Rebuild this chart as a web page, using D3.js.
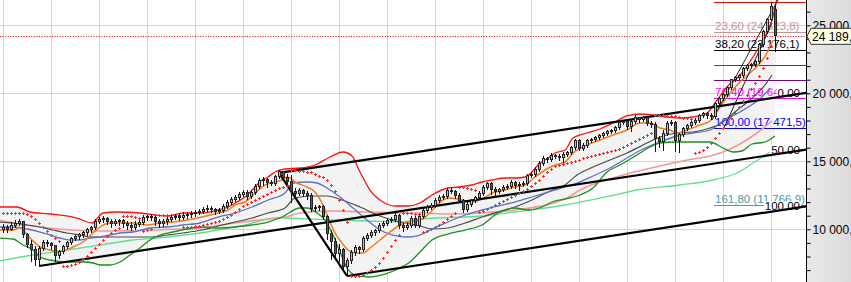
<!DOCTYPE html>
<html><head><meta charset="utf-8">
<script src="https://cdn.jsdelivr.net/npm/d3@7"></script>
<style>body{margin:0;background:#fff;overflow:hidden}svg{display:block}</style>
</head><body>
<svg id="c" width="851" height="282"></svg>
<script>
// ---------- DATA ----------
const open = [9948,10095,9948,10242,10389,10536,9580,8845,8477,7742,8551,8992,8918,8772,8036,8330,8698,8992,9286,9433,
9580,9728,9948,10095,10536,10683,10757,10536,10389,10536,10610,10389,10242,10095,10316,10463,10830,10904,10830,10536,
10389,10536,10683,10830,10904,10830,10978,11051,11125,11198,11272,11419,11492,11419,11272,11345,11639,11933,12154,12301,
12522,12669,12375,12669,13110,13551,13625,13404,13330,13845,14213,13772,13478,12742,12595,12816,12595,12448,11492,11566,
11639,10904,9654,9066,8183,8477,7227,7669,8257,8625,8477,9286,9507,9728,9875,10242,10389,10610,10683,10978,
10242,10095,10242,10757,10242,10904,11345,11566,11713,12080,12301,12375,12816,12742,12448,12080,11419,11786,12080,12301,
12595,13036,13330,12889,12742,12889,13036,13110,13404,13183,13257,13330,13919,13992,14360,14801,15169,15095,15389,15316,
15242,15463,15610,15978,16492,15904,16125,16492,16566,16713,16860,17007,17154,17228,17448,17816,17889,17522,17889,18183,
18036,18183,17742,17669,16639,16419,17007,17742,17816,16492,16933,17375,17595,17816,17963,18331,18478,18331,18257,19213,
19581,19875,20389,20978,21125,21272,21786,22007,22081,22301,23551,24507,25400,26125];
const high = [10389,10316,10536,10683,10757,10610,9728,9213,8772,8772,9213,9213,9066,8845,8477,8845,9139,9433,9580,9728,
9875,10095,10242,10757,10904,10978,10904,10757,10757,10757,10757,10610,10536,10610,10683,11051,11051,11125,10978,10757,
10757,10904,11051,11125,11125,11272,11272,11345,11419,11492,11639,11786,11713,11566,11566,11860,12154,12375,12522,12742,
12889,12889,12889,13330,13772,13845,13772,13625,13992,14360,14286,14066,13992,13036,13036,12963,12816,12669,11786,11786,
11786,11051,9948,9360,8918,8625,7889,8477,8845,8772,9507,9728,9948,10022,10463,10610,10830,10904,11198,11125,
10463,10536,10978,10978,11125,11566,11786,11933,12301,12522,12595,13036,13110,12889,12669,12228,12007,12228,12448,12816,
13257,13478,13478,13110,13036,13257,13330,13625,13551,13478,13551,14066,14213,14580,15022,15389,15316,15610,15537,15537,
15684,15757,16125,16639,16639,16345,16639,16713,16860,17007,17154,17301,17375,17595,17963,18036,18036,18110,18404,18257,
18331,18257,17963,17889,16860,17301,17963,18036,17963,17081,17522,17742,17963,18183,18478,18625,18625,18551,19286,19728,
20022,20536,21051,21272,21419,21933,22154,22228,22448,23698,24654,25536,26702,26492];
const low = [9728,9728,9875,10095,10242,9360,8625,7595,7301,7301,8404,8698,8477,7595,7816,8183,8551,8845,9139,9213,
9360,9507,9728,9948,10389,10463,10316,10095,10242,10242,10095,9948,9875,9948,10169,10316,10610,10610,10242,10095,
10169,10316,10536,10683,10610,10683,10757,10830,10904,11051,11125,11272,11198,11051,11125,11198,11492,11786,12007,12154,
12375,12154,12228,12522,12963,13183,13036,13183,13183,13698,13551,13257,11933,12301,12448,12375,12154,11272,11272,11345,
10683,9213,7742,7889,7595,6860,6566,7448,8036,8183,8330,9139,9360,9507,9728,10095,10242,10463,10536,10022,
9801,9948,10095,10095,10095,10757,11198,11419,11566,11933,12154,12228,12595,12228,11933,11198,11272,11639,11933,12154,
12448,12889,12522,12301,12595,12742,12889,12963,12963,12816,13110,13183,13772,13845,14213,14654,14874,14948,15169,15022,
14874,15316,15463,15831,15757,15757,15978,16345,16419,16566,16713,16860,17007,17081,17301,17669,17301,17154,17742,17816,
17889,17595,17448,15684,15978,15757,16860,17595,15684,15610,16786,17228,17448,17669,17816,18183,18110,18036,18110,19066,
19433,19728,20242,20831,20978,21125,21640,21860,21933,22154,23404,24360,25300,23037];
const close = [10095,9948,10242,10389,10536,9580,8845,8477,7742,8551,8992,8918,8772,8036,8330,8698,8992,9286,9433,9580,
9728,9948,10095,10536,10683,10757,10536,10389,10536,10610,10389,10242,10095,10316,10463,10830,10904,10830,10536,10389,
10536,10683,10830,10904,10830,10978,11051,11125,11198,11272,11419,11492,11419,11272,11345,11639,11933,12154,12301,12522,
12669,12375,12669,13110,13551,13625,13404,13330,13845,14213,13772,13478,12742,12595,12816,12595,12448,11492,11566,11639,
10904,9654,9066,8183,8477,7227,7669,8257,8625,8477,9286,9507,9728,9875,10242,10389,10610,10683,10978,10242,
10095,10242,10757,10242,10904,11345,11566,11713,12080,12301,12375,12816,12742,12448,12080,11419,11786,12080,12301,12595,
13036,13330,12889,12742,12889,13036,13110,13404,13183,13257,13330,13919,13992,14360,14801,15169,15095,15389,15316,15242,
15463,15610,15978,16492,15904,16125,16492,16566,16713,16860,17007,17154,17228,17448,17816,17889,17522,17889,18183,18036,
18183,17742,17669,16639,16419,17007,17742,17816,16492,16933,17375,17595,17816,17963,18331,18478,18331,18257,19213,19581,
19875,20389,20978,21125,21272,21786,22007,22081,22301,23551,24507,25400,26345,24189];
const sar = [11198,11198,11198,11198,11198,11198,11125,10978,10757,10463,10169,9875,9580,9360,9139,7301,7301,7375,7448,7595,
7816,8036,8330,8625,8918,9213,9507,9728,9948,10095,10978,10978,10978,10904,10830,9875,9948,10022,11051,11051,
11051,11051,11051,11051,11051,10169,10169,10169,10242,10242,10316,10389,10463,10536,10610,10757,10904,11051,11272,11492,
11713,11860,12007,12154,12301,12448,12595,12742,12889,13036,13110,13183,14360,14360,14286,14286,14213,14213,14066,13919,
13845,13625,13257,12816,12154,11419,10536,6566,6566,6566,6640,6786,7007,7227,7522,7889,8330,8772,9213,9580,
11198,11198,11198,11125,11125,9801,9875,10022,10169,10316,10536,10757,10978,11198,13110,13110,13036,12963,12889,11272,
11345,11492,11639,11786,11933,12080,12228,12375,12522,12669,12816,12963,13183,13404,13625,13919,14213,14433,14654,14727,
14801,14874,14948,15022,15095,15242,15316,15389,15463,15537,15610,15684,15757,15831,15904,16051,16198,16345,16492,16639,
16786,16933,17081,18404,18404,18404,18331,18331,18331,18257,18183,18183,18110,15610,15684,15831,16051,16345,16713,17081,
17448,17816,18183,18551,18992,19434,19875,20316,20757,21272,21860,22595,23478,null];

// indicator knots: bar index -> value
const bbUpIdx = [-1,3.5,6.75,11.75,18.5,22.25,25,28.5,34.25,41,45,49.75,53.75,56.25,58,60.5,63,64.75,66.25,68,70.5,74.25,78,81.75,85,87.25,89.25,91.75,95,98,101.25,104.25,107.25,111.25,113.75,117.25,119.75,122.25,125.5,128,130.5,132.25,133.75,136.25,138,140.5,142.5,146,149.25,152.5,156,159.25,162.5,166,169.25,172.5,176,178,181,184.25,187.5,190,192.25,193.5];
const bbUp = [11639,11639,11272,11125,10830,10463,11198,11272,11198,10978,11198,11198,11419,11639,11933,12375,13110,13625,13845,14213,14433,14507,14727,15316,15684,15389,14213,12889,12007,11713,11713,11933,12522,13036,13110,13257,13478,13625,13772,13772,13845,14213,14727,15242,15610,15831,16713,17081,17375,17816,18331,18478,18404,18257,18183,18257,18551,19286,20462,21345,22668,23919,25389,27007];
const bbLoIdx = [-1,2.5,5,7.5,9.25,11.75,16,20,22.5,24.25,26.75,29.25,31.75,34.25,36.75,39.25,42.5,46,49.75,53.75,58,62.25,66.25,69.75,74.25,76,78.5,80.5,82.5,84.25,86,88,91.25,95.5,99.25,101.75,104.25,107.25,111.25,115.5,119.75,123.75,128,131.25,134.75,137.25,140.5,144.25,147.5,151,154.25,158.5,161.75,164.25,168.5,172.5,176.75,180,182.5,184.75,187.25,190.5,193];
const bbLo = [9360,9286,8845,8477,7963,7742,7595,7595,7522,7375,7375,7595,8110,8625,9213,9580,9801,10022,10169,10095,10169,10316,10536,10904,11566,11566,11198,10683,9580,8330,7154,6640,6492,6713,7154,7595,8330,9213,9654,9948,10316,11198,11566,11419,11639,12007,12228,12522,13036,14213,14727,15463,16051,16345,16419,16419,16419,15978,15684,15757,16272,16419,16860];
const orangeIdx = [-1,2.5,4.25,6.75,9.25,11.75,13.5,15,17.5,20,22.5,24.25,26.75,32.5,36,39.25,42.5,46,49.75,53.75,56.25,58,60.5,63,65.5,68,69.75,71,73.5,76,78,79.75,81.25,83,84.75,86.25,88.5,90,91.75,94.25,96.75,99.25,101.75,104.25,106.75,108.75,111.25,113.75,117.25,119.75,122.25,125.5,128,130.5,133,135.5,138,140.5,142.5,146,149.25,152.5,156,159.25,161.75,164.25,166.75,168.5,171,174.25,176.75,179.25,181.75,184.25,186.75,189.25,191,192.5];
const orange = [9948,9948,10095,9360,8698,8477,8330,8404,8698,9066,9728,10169,10463,10463,10316,10463,10536,10683,10904,11198,11419,11786,12007,12669,13257,13478,13625,13845,13404,13110,12742,11933,10904,9728,8992,8477,8257,8257,8625,9213,9801,10316,10536,10683,11198,11860,12301,12228,12007,12228,12669,12889,13110,13257,13845,14360,14727,14948,15610,16198,16566,16933,17301,17816,17816,17448,17301,17081,17301,17669,17963,18992,20022,20831,21492,22228,22963,23919];
const blueIdx = [-1,2.5,6,9.25,11.75,14.25,16.75,19.25,21.75,24.25,26.75,29.25,32.5,36.75,41,45,49.25,53.75,58,62.25,66.25,70.5,72.5,76,78.5,81,84.25,87.5,91,94.25,97.5,101,104.25,107.25,111.25,115.5,119.75,123.75,128,132.25,136.25,140.5,143.5,147.5,151.75,156,160,164.25,168.5,172.5,176.75,180,184.25,188.5,191.75];
const blue = [10169,10169,10022,9801,9580,9360,9213,9213,9360,9433,9580,9728,9801,10095,10169,10316,10463,10904,11198,11639,12154,12669,13404,13478,13404,13036,12375,11566,10683,9948,9580,9433,9580,10022,10536,11051,11419,11713,12007,12375,12742,13110,13404,13919,14507,15242,15904,16419,16860,17081,17301,17963,18625,19434,20316];
const grayIdx = [-1,2.5,6,9.25,12.5,16,19.25,22.5,26,29.25,32.5,36.75,41,45,49.75,53.75,58,62.25,66.25,70.5,73,77.25,81,84.75,89.25,94.25,99.25,104.25,107.25,111.25,115.5,119.75,123.75,128,132.25,136.25,140.5,143.5,147.5,151.75,156,160,164.25,168.5,172.5,176.75,179.25,183,186.75,190.5,192.25];
const gray = [10536,10463,10316,10169,9948,9728,9580,9433,9433,9433,9433,9433,9580,9728,9948,10242,10536,10830,11198,11566,12301,12448,12448,12154,11639,10978,10536,10242,10022,10095,10463,10904,11272,11639,12154,12742,13257,13992,14580,15095,15610,16198,16786,17081,17154,17448,17742,18625,19507,20610,21345];
const salmonIdx = [-1,9.25,24.25,36.75,49.25,58,66.25,70.5,74.25,82.5,91,99.25,104.25,111.25,119.75,128,140.5,144.25,156,164.25,172.5,176.75,180,184.25,188.5,192.25];
const salmon = [10683,10169,9875,9948,10095,10463,10757,10904,11198,11345,11272,11198,11198,11125,11198,11419,12228,12889,14066,14654,15169,15389,15684,16272,17081,17963];
const ltGreenIdx = [-1,7.5,16,24.25,32.5,41,49.25,59.25,68.75,82.5,91,99.25,104.25,119.75,128,140.5,151.75,158.5,169.25,177.5,183.5,187.5,191.75];
const ltGreen = [7669,8110,8477,8845,9213,9433,9728,10242,10830,10683,10610,10536,10757,10978,11272,11786,12448,12889,13257,13625,14139,14874,15684];

// thin trend lines at the end: [startIdx, startVal, endIdx, endVal]
const trendLines = [[177.25, 18036, 193.75, 26860], [180, 17301, 192.25, 25169]];

// Andrews' pitchfork pivots (bar index, value) and labels
const pfIdx = [9, 69, 86];
const pfVal = [7301, 14150, 6566];
const pfLabels = ["0.00", "50.00", "100.00"];

// Fibonacci retracement
const fibHigh = 26702.2, fibLow = 17471.5, fibStartIdx = 177.75;
const fibRatios = [0, 23.6, 38.2, 50, 61.8, 76.4, 100, 161.8];
const fibLabels = [null, "23,60 (24 523,8)", "38,20 (23 176,1)", null, null, "76,40 (19 649,9)", "100,00 (17 471,5)", "161,80 (11 766,9)"];
const fibColors = ["#ff0000", "#c49494", "#000000", "#007a00", "#800080", "#ff00ff", "#0000ff", "#4f9aa6"];

const axisTicks = d3.range(7000, 27000, 1000);
const lastPriceLabel = "24 189,0";

// ---------- CHART ----------
const W = 851, H = 282, plotRight = 806;
const svg = d3.select("#c");
const x = d3.scaleLinear().domain([0, 193]).range([3, 775]);
const y = d3.scaleLinear().domain([6125, 26860]).range([H, 0]);
const locale = d3.formatLocale({decimal: ",", thousands: " ", grouping: [3], currency: ["", ""]});
const fmt = locale.format(",.1f");
const FONT = "'Liberation Sans', Arial, sans-serif";

svg.append("rect").attr("x", 0).attr("y", 0).attr("width", plotRight).attr("height", H).attr("fill", "#fff");
const grad = svg.append("defs").append("linearGradient").attr("id", "pg").attr("x1", 0).attr("x2", 1);
grad.append("stop").attr("offset", 0).attr("stop-color", "#e9e9e9");
grad.append("stop").attr("offset", 1).attr("stop-color", "#dcdcdc");
svg.append("rect").attr("x", plotRight).attr("y", 0).attr("width", W - plotRight).attr("height", H).attr("fill", "url(#pg)");

// grid
const gridIdx = d3.range(0, 194, 12);
svg.append("g").selectAll("line").data(gridIdx).join("line")
  .attr("x1", d => Math.round(x(d)) + 0.5).attr("x2", d => Math.round(x(d)) + 0.5)
  .attr("y1", 0).attr("y2", H).attr("stroke", "#d2d2d2").attr("stroke-width", 1);
svg.append("g").selectAll("line").data(axisTicks.filter(d => d % 5000 === 0)).join("line")
  .attr("x1", 0).attr("x2", plotRight).attr("y1", d => Math.round(y(d)) + 0.5).attr("y2", d => Math.round(y(d)) + 0.5)
  .attr("stroke", "#d2d2d2").attr("stroke-width", 1);

// bollinger fill
const toPts = (idx, vals) => idx.map((d, k) => [x(d), y(vals[k])]);
const lineM = d3.line().curve(d3.curveMonotoneX);
const upPts = toPts(bbUpIdx, bbUp), loPts = toPts(bbLoIdx, bbLo);
const fillPath = lineM(upPts) + "L" + lineM(loPts.slice().reverse()).slice(1) + "Z";
svg.append("path").attr("d", fillPath).attr("fill", "#f3f3f3");

// Fibonacci lines + labels
const fibVal = r => fibHigh - r / 100 * (fibHigh - fibLow);
const fg = svg.append("g");
fibRatios.forEach((r, k) => {
  const yy = Math.round(y(fibVal(r))) + 0.5;
  fg.append("line").attr("x1", x(fibStartIdx)).attr("x2", plotRight).attr("y1", yy).attr("y2", yy)
    .attr("stroke", fibColors[k]).attr("stroke-width", 1);
  if (fibLabels[k]) fg.append("text").attr("x", x(fibStartIdx) + 1).attr("y", yy - 2.5)
    .attr("font-family", FONT).attr("font-size", "11.5px").attr("fill", fibColors[k]).text(fibLabels[k]);
});

// moving averages / bands
const drawLine = (idx, vals, color, w) => svg.append("path").attr("d", lineM(toPts(idx, vals)))
  .attr("fill", "none").attr("stroke", color).attr("stroke-width", w);
drawLine(ltGreenIdx, ltGreen, "#5ee08a", 1.3);
drawLine(salmonIdx, salmon, "#f29a9a", 1.6);
drawLine(grayIdx, gray, "#4a4a4a", 1.2);
drawLine(blueIdx, blue, "#5a72c4", 1.3);
drawLine(orangeIdx, orange, "#f07a1e", 1.5);
drawLine(bbUpIdx, bbUp, "#ff1010", 1.3);
drawLine(bbLoIdx, bbLo, "#1f8f1f", 1.3);

// thin trend lines
svg.append("g").selectAll("line").data(trendLines).join("line")
  .attr("x1", d => x(d[0])).attr("y1", d => y(d[1])).attr("x2", d => x(d[2])).attr("y2", d => y(d[3]))
  .attr("stroke", "#222").attr("stroke-width", 1);

// pitchfork
const slope = ((pfVal[1] + pfVal[2]) / 2 - pfVal[0]) / ((pfIdx[1] + pfIdx[2]) / 2 - pfIdx[0]);
const endIdx = x.invert(plotRight);
const pfLines = [[pfIdx[1], pfVal[1]], [pfIdx[0], pfVal[0]], [pfIdx[2], pfVal[2]]];
const pg = svg.append("g");
pfLines.forEach(([i0, v0], k) => {
  const vEnd = v0 + slope * (endIdx - i0);
  const t = pg.append("text").attr("x", 800).attr("y", y(vEnd)).attr("dy", "0.35em").attr("text-anchor", "end")
    .attr("font-family", FONT).attr("font-size", "11.5px").attr("fill", "#000").text(pfLabels[k]);
  const bb = t.node().getBBox();
  pg.insert("rect", "text").attr("x", bb.x - 1).attr("y", bb.y + 1).attr("width", bb.width + 2).attr("height", bb.height - 2).attr("fill", "#fff");
  pg.append("line").attr("x1", x(i0)).attr("y1", y(v0)).attr("x2", x(endIdx)).attr("y2", y(vEnd))
    .attr("stroke", "#000").attr("stroke-width", 2.2);
});
pg.append("line").attr("x1", x(pfIdx[1])).attr("y1", y(pfVal[1])).attr("x2", x(pfIdx[2])).attr("y2", y(pfVal[2]))
  .attr("stroke", "#000").attr("stroke-width", 2.2);

// parabolic SAR: small red crosses
svg.append("g").selectAll("path").data(sar.map((v, i) => [i, v]).filter(d => d[1] != null)).join("path")
  .attr("d", d => { const cx = Math.round(x(d[0])) + 0.5, cy = Math.round(y(d[1])) + 0.5;
    return `M${cx - 1.5},${cy}H${cx + 1.5}M${cx},${cy - 1.5}V${cy + 1.5}`; })
  .attr("stroke", "#ff2a2a").attr("stroke-width", 1).attr("fill", "none");

// candles
const cg = svg.append("g").attr("shape-rendering", "crispEdges");
close.forEach((c, i) => {
  const X = Math.round(x(i));
  cg.append("line").attr("x1", X + 0.5).attr("x2", X + 0.5).attr("y1", y(high[i])).attr("y2", y(low[i]))
    .attr("stroke", "#111").attr("stroke-width", 1);
  const top = Math.round(y(Math.max(open[i], c))), bot = Math.round(y(Math.min(open[i], c)));
  cg.append("rect").attr("x", X - 0.5).attr("y", top - 0.5).attr("width", 2).attr("height", Math.max(1, bot - top))
    .attr("fill", c >= open[i] ? "#9ad89a" : "#ee1c1c").attr("stroke", "#222").attr("stroke-width", 1);
});

// last price dotted line
const lastY = Math.round(y(close[close.length - 1])) + 0.5;
svg.append("line").attr("x1", 0).attr("x2", plotRight).attr("y1", lastY).attr("y2", lastY)
  .attr("stroke", "#e00000").attr("stroke-width", 1).attr("stroke-dasharray", "1,1.6");

// right axis
const ax = svg.append("g").attr("transform", `translate(${plotRight + 0.5},0)`)
  .call(d3.axisRight(y).tickValues(axisTicks).tickSize(4).tickPadding(3)
    .tickFormat(d => d % 5000 === 0 ? fmt(d) : ""));
ax.select(".domain").remove();
ax.selectAll("line").attr("stroke", "#000");
ax.selectAll("text").attr("font-family", FONT).attr("font-size", "12px").attr("fill", "#000").attr("x", 6);
svg.append("line").attr("x1", plotRight + 0.5).attr("x2", plotRight + 0.5).attr("y1", 0).attr("y2", H).attr("stroke", "#000");

// last price box
const ly = y(close[close.length - 1]);
svg.append("path").attr("d", `M${plotRight + 1},${ly} L${plotRight + 5},${ly - 8} L${W + 2},${ly - 8} L${W + 2},${ly + 8} L${plotRight + 5},${ly + 8} Z`)
  .attr("fill", "#ffffe1").attr("stroke", "#333").attr("stroke-width", 1);
svg.append("text").attr("x", plotRight + 6).attr("y", ly).attr("dy", "0.36em")
  .attr("font-family", FONT).attr("font-size", "12px").attr("fill", "#000").text(lastPriceLabel);
</script>
</body></html>
